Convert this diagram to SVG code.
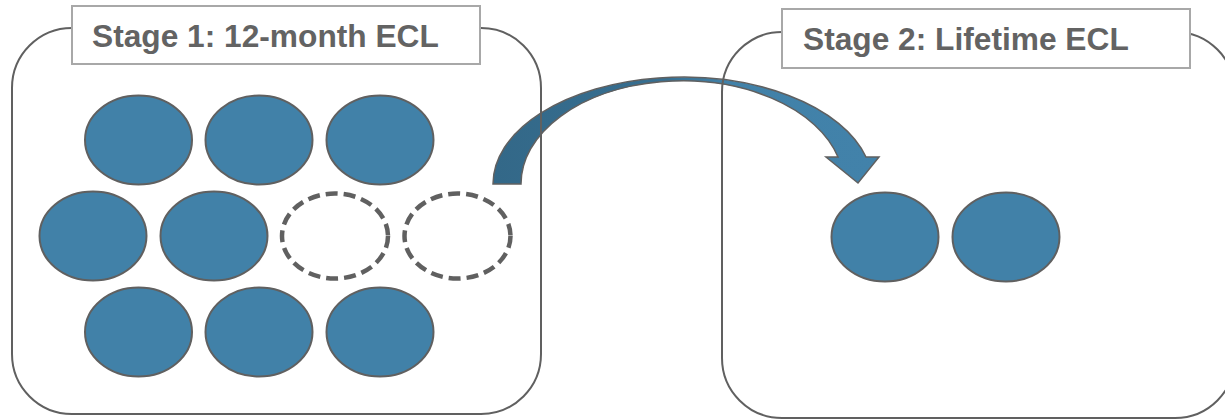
<svg xmlns="http://www.w3.org/2000/svg" width="1225" height="420" viewBox="0 0 1225 420">
  <defs>
    <linearGradient id="arrowGrad" gradientUnits="userSpaceOnUse" x1="493" y1="0" x2="880" y2="0">
      <stop offset="0" stop-color="#336888"/>
      <stop offset="0.45" stop-color="#376f91"/>
      <stop offset="0.6" stop-color="#4181a8"/>
      <stop offset="1" stop-color="#4282aa"/>
    </linearGradient>
  </defs>
  <style>
    .stage { fill: none; stroke: #606060; stroke-width: 2; }
    .label { fill: #ffffff; stroke: #a8a8a8; stroke-width: 2; }
    .label-text { font-family: "Liberation Sans", Arial, sans-serif; font-weight: bold; font-size: 31.7px; fill: #636363; }
    .item { fill: #4181a8; stroke: #606060; stroke-width: 2; }
    .empty { fill: none; stroke: #606060; stroke-width: 4.5; stroke-dasharray: 12 6; }
    .arrow { fill: url(#arrowGrad); stroke: #606060; stroke-width: 1.5; stroke-linejoin: miter; }
  </style>
  <rect width="1225" height="420" fill="#ffffff"/>

  <g id="connectors">
    <path class="arrow" d="M493,184 A189.6,107 0 0 1 866,157 L879,157 L858,183 L826,157 L838,157 A161.3,103 0 0 0 521,184 Z"/>
  </g>

  <g id="stage1">
    <rect class="stage" x="12" y="28" width="529" height="386" rx="60" ry="60"/>
    <rect class="label" x="72" y="6" width="408" height="58"/>
    <text class="label-text" x="92" y="47">Stage 1: 12-month ECL</text>
  </g>

  <g id="stage2">
    <rect class="stage" x="722" y="32" width="513" height="386" rx="60" ry="60"/>
    <rect class="label" x="782" y="9" width="408" height="59"/>
    <text class="label-text" x="803" y="50">Stage 2: Lifetime ECL</text>
  </g>

  <g id="s1-r1-a"><ellipse class="item" cx="138.5" cy="140" rx="53.5" ry="44.5"/></g>
  <g id="s1-r1-b"><ellipse class="item" cx="259" cy="140" rx="53.5" ry="44.5"/></g>
  <g id="s1-r1-c"><ellipse class="item" cx="380" cy="140" rx="53.5" ry="44.5"/></g>

  <g id="s1-r2-a"><ellipse class="item" cx="93" cy="236" rx="53.5" ry="44.5"/></g>
  <g id="s1-r2-b"><ellipse class="item" cx="214" cy="236" rx="53.5" ry="44.5"/></g>
  <g id="s1-r2-c"><ellipse class="empty" cx="335" cy="236" rx="53" ry="42.5"/></g>
  <g id="s1-r2-d"><ellipse class="empty" cx="457.5" cy="236" rx="53" ry="42.5"/></g>

  <g id="s1-r3-a"><ellipse class="item" cx="138.5" cy="332" rx="53.5" ry="44.5"/></g>
  <g id="s1-r3-b"><ellipse class="item" cx="259" cy="332" rx="53.5" ry="44.5"/></g>
  <g id="s1-r3-c"><ellipse class="item" cx="380" cy="332" rx="53.5" ry="44.5"/></g>

  <g id="s2-a"><ellipse class="item" cx="885" cy="237" rx="53.5" ry="44.5"/></g>
  <g id="s2-b"><ellipse class="item" cx="1006" cy="237" rx="53.5" ry="44.5"/></g>
</svg>
